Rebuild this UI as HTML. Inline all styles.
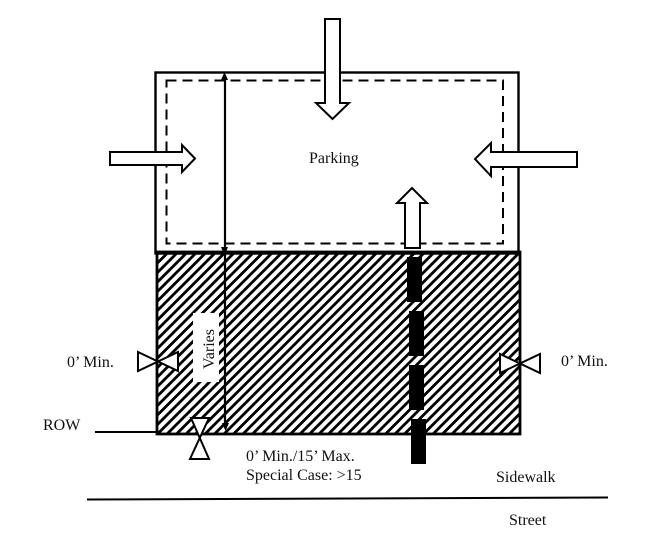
<!DOCTYPE html>
<html><head><meta charset="utf-8"><style>
html,body{margin:0;padding:0;background:#fff}
svg{display:block}
text{font-family:"Liberation Serif",serif;font-size:16px;fill:#111}
</style></head><body>
<svg width="650" height="558" viewBox="0 0 650 558" xmlns="http://www.w3.org/2000/svg">
<defs>
<pattern id="h" width="9.500" height="9.500" patternUnits="userSpaceOnUse" patternTransform="translate(2.500 0)">
<path d="M-2 2L2 -2M0 9.500L9.500 0M7.500 11.500L11.500 7.500" stroke="#000" stroke-width="2.800" fill="none"/>
</pattern>
</defs>
<rect x="155.500" y="72.500" width="363" height="181" fill="#fff" stroke="#000" stroke-width="2.400"/>
<rect x="166.500" y="80.500" width="336.500" height="163" fill="none" stroke="#000" stroke-width="2" stroke-dasharray="10 6"/>
<rect x="157" y="252" width="363" height="182" fill="url(#h)" stroke="#000" stroke-width="2.800"/>
<rect x="193" y="313" width="26" height="69" fill="#fff"/>
<text transform="translate(214 369) rotate(-90)">Varies</text>
<path d="M225 78V427" stroke="#000" stroke-width="2.200" fill="none"/>
<path d="M224.500 72L221 80H228Z M224.500 256L221 247H228Z M225.500 431L222 423H229Z" fill="#000"/>
<rect x="407" y="257" width="15" height="45" fill="#000"/>
<rect x="409" y="311" width="15" height="45" fill="#000"/>
<rect x="409" y="365" width="15" height="45" fill="#000"/>
<rect x="411" y="419" width="15" height="45" fill="#000"/>
<g fill="#fff" stroke="#000" stroke-width="2">
<path d="M325 19H340V103H349L332.500 119L316 103H325Z"/>
<path d="M110 152H182V145L195 158.500L182 172V165H110Z"/>
<path d="M577 152H491V143L475 159L491 176V167H577Z"/>
<path d="M405 248V203H397L412 188L427 203H420V248Z"/>
<path d="M138 352L178 371V352L138 371Z"/>
<path d="M500 354L540 373V354L500 373Z"/>
<path d="M191 418H209L190 459H209Z"/>
</g>
<path d="M95 432H157" stroke="#000" stroke-width="2"/>
<path d="M87 499.500L608 497.500" stroke="#000" stroke-width="2"/>
<text x="67" y="367">0’ Min.</text>
<text x="561" y="366">0’ Min.</text>
<text x="43" y="430">ROW</text>
<text x="309" y="163">Parking</text>
<text x="246" y="461">0’ Min./15’ Max.</text>
<text x="246" y="480">Special Case: &gt;15</text>
<text x="496" y="482">Sidewalk</text>
<text x="509" y="525">Street</text>
</svg>
</body></html>
